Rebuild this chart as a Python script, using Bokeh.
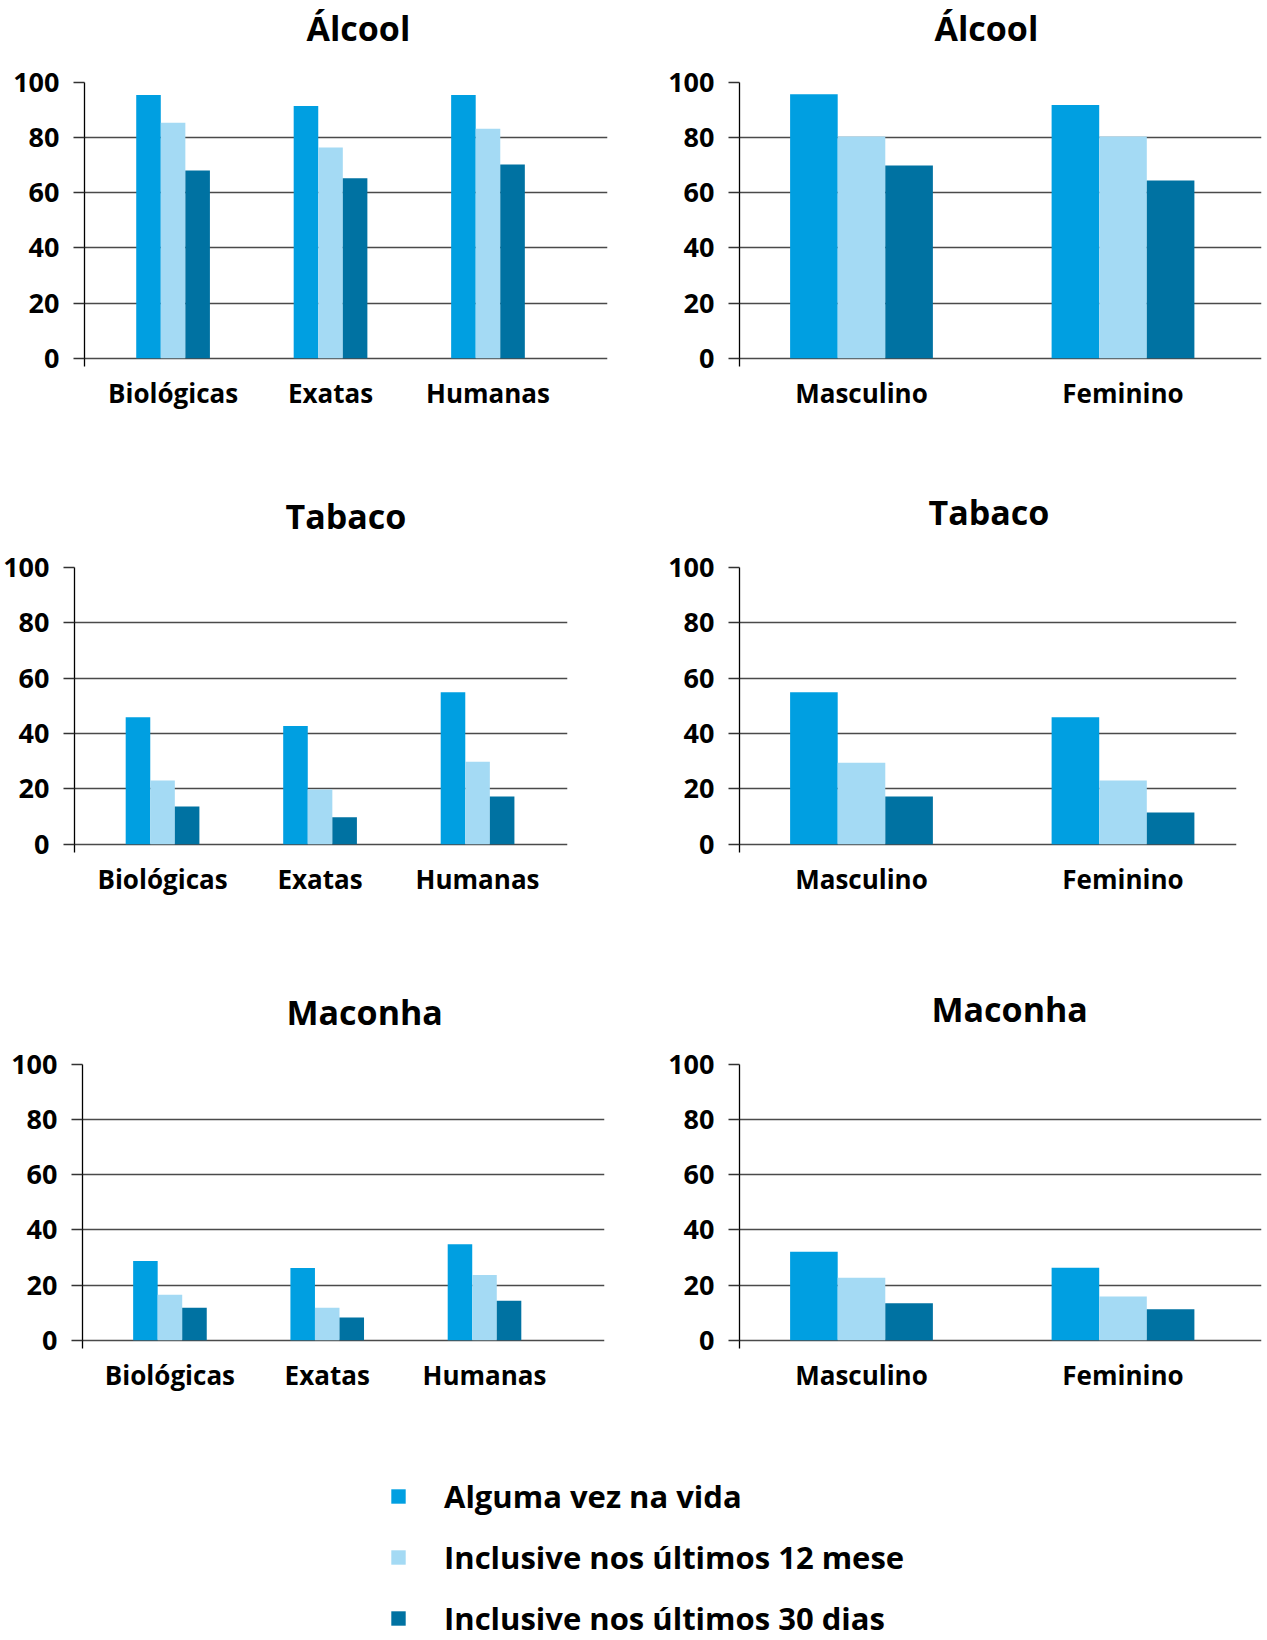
import numpy as np
from bokeh.plotting import figure
from bokeh.layouts import column, row
from bokeh.models import Range1d, FixedTicker, Legend, LegendItem, Title
from bokeh.embed import file_html
from bokeh.resources import INLINE

# ---------------- data ----------------
series = ["Alguma vez na vida", "Inclusive nos últimos 12 mese", "Inclusive nos últimos 30 dias"]
colors = ["#009FE1", "#A4DAF4", "#0072A2"]
areas = ["Biológicas", "Exatas", "Humanas"]
sexos = ["Masculino", "Feminino"]
y_ticks = [0, 20, 40, 60, 80, 100]

alcool_area_vida = [95.5, 91.5, 95.5]
alcool_area_12m = [85.4, 76.4, 83.2]
alcool_area_30d = [68.1, 65.3, 70.3]
alcool_sexo_vida = [95.7, 91.8]
alcool_sexo_12m = [80.4, 80.4]
alcool_sexo_30d = [69.9, 64.5]

tabaco_area_vida = [45.9, 42.7, 54.9]
tabaco_area_12m = [23.0, 19.8, 29.8]
tabaco_area_30d = [13.6, 9.7, 17.2]
tabaco_sexo_vida = [54.9, 45.9]
tabaco_sexo_12m = [29.4, 23.0]
tabaco_sexo_30d = [17.2, 11.5]

maconha_area_vida = [28.7, 26.2, 34.8]
maconha_area_12m = [16.5, 11.8, 23.7]
maconha_area_30d = [11.8, 8.2, 14.3]
maconha_sexo_vida = [32.1, 26.3]
maconha_sexo_12m = [22.7, 15.9]
maconha_sexo_30d = [13.4, 11.2]

FONT = "Open Sans"


def panel(title, cats, vals, w, h, left, right, top, bottom, x0, x1, bar_w,
          t_offset, gap):
    p = figure(width=w, height=h, x_range=Range1d(x0, x1), y_range=Range1d(-3, 100),
               output_backend="svg", toolbar_location=None,
               min_border_left=left, min_border_right=right,
               min_border_top=top, min_border_bottom=bottom, title=title)
    p.title.align = "left"
    p.title.offset = t_offset
    p.title.text_font = FONT
    p.title.text_font_style = "bold"
    p.title.text_font_size = "34px"
    p.title.text_color = "black"
    p.title.standoff = 0
    # spacer between the title and the plot frame
    p.add_layout(Title(text=" ", text_font_size="1px", standoff=gap - 4), "above")
    p.outline_line_color = None
    p.background_fill_color = "white"
    n = len(cats)
    idx = np.arange(n)
    for i, (v, c) in enumerate(zip(vals, colors)):
        p.vbar(x=idx + (i - 1) * bar_w, top=v, bottom=0, width=bar_w,
               fill_color=c, line_color=None)
    p.xgrid.visible = False
    p.ygrid.ticker = FixedTicker(ticks=y_ticks)
    p.ygrid.grid_line_color = "#4a4a4a"
    p.ygrid.grid_line_width = 1.3
    ya = p.yaxis[0]
    ya.ticker = FixedTicker(ticks=y_ticks)
    ya.axis_line_color = "black"
    ya.axis_line_width = 1.3
    ya.major_tick_out = 11
    ya.major_tick_in = 0
    ya.major_tick_line_color = "#333333"
    ya.major_tick_line_width = 1.3
    ya.minor_tick_line_color = None
    ya.major_label_standoff = 14
    ya.major_label_text_font = FONT
    ya.major_label_text_font_style = "bold"
    ya.major_label_text_font_size = "27px"
    ya.major_label_text_color = "black"
    xa = p.xaxis[0]
    xa.ticker = FixedTicker(ticks=list(range(n)))
    xa.major_label_overrides = {i: c for i, c in enumerate(cats)}
    xa.axis_line_color = None
    xa.major_tick_line_color = None
    xa.minor_tick_line_color = None
    xa.major_label_standoff = 2
    xa.major_label_text_font = FONT
    xa.major_label_text_font_style = "bold"
    xa.major_label_text_font_size = "26px"
    xa.major_label_text_color = "black"
    return p


p1 = panel("Álcool", areas, [alcool_area_vida, alcool_area_12m, alcool_area_30d],
           630, 460, 84, 23, 79, 94, -0.5625, 2.759, 0.156, 222, 32.5)
p2 = panel("Álcool", sexos, [alcool_sexo_vida, alcool_sexo_12m, alcool_sexo_30d],
           637, 460, 109, 6, 82, 91, -0.4665, 1.5296, 0.182, 195, 32.5)
p3 = panel("Tabaco", areas, [tabaco_area_vida, tabaco_area_12m, tabaco_area_30d],
           630, 480, 74, 63, 107, 87, -0.559, 2.571, 0.156, 211, 30.0)
p4 = panel("Tabaco", sexos, [tabaco_sexo_vida, tabaco_sexo_12m, tabaco_sexo_30d],
           637, 480, 109, 31, 106, 88, -0.4665, 1.434, 0.182, 189, 33.5)
p5 = panel("Maconha", areas, [maconha_area_vida, maconha_area_12m, maconha_area_30d],
           630, 460, 82, 26, 122, 52, -0.556, 2.763, 0.156, 204, 31.0)
p6 = panel("Maconha", sexos, [maconha_sexo_vida, maconha_sexo_12m, maconha_sexo_30d],
           637, 460, 109, 6, 124, 50, -0.4665, 1.5296, 0.182, 192, 33.5)

lg = figure(width=1267, height=240, x_range=Range1d(0, 1), y_range=Range1d(0, 1),
            output_backend="svg", toolbar_location=None, min_border=0,
            x_axis_location=None, y_axis_location=None)
lg.grid.visible = False
lg.outline_line_color = None
rends = [lg.vbar(x=[-10], top=[-10], width=0.1, fill_color=c, line_color=None) for c in colors]
legend = Legend(items=[LegendItem(label=s, renderers=[r]) for s, r in zip(series, rends)],
                location=(389, 1), border_line_color=None, background_fill_alpha=0,
                padding=0, margin=0, spacing=19, glyph_width=18, glyph_height=18,
                label_standoff=37, label_height=30, label_text_font=FONT,
                label_text_font_style="bold", label_text_font_size="31px",
                label_text_color="black")
lg.add_layout(legend)

layout = column(row(p1, p2), row(p3, p4), row(p5, p6), lg)
open("out.html", "w").write(file_html(layout, INLINE))
